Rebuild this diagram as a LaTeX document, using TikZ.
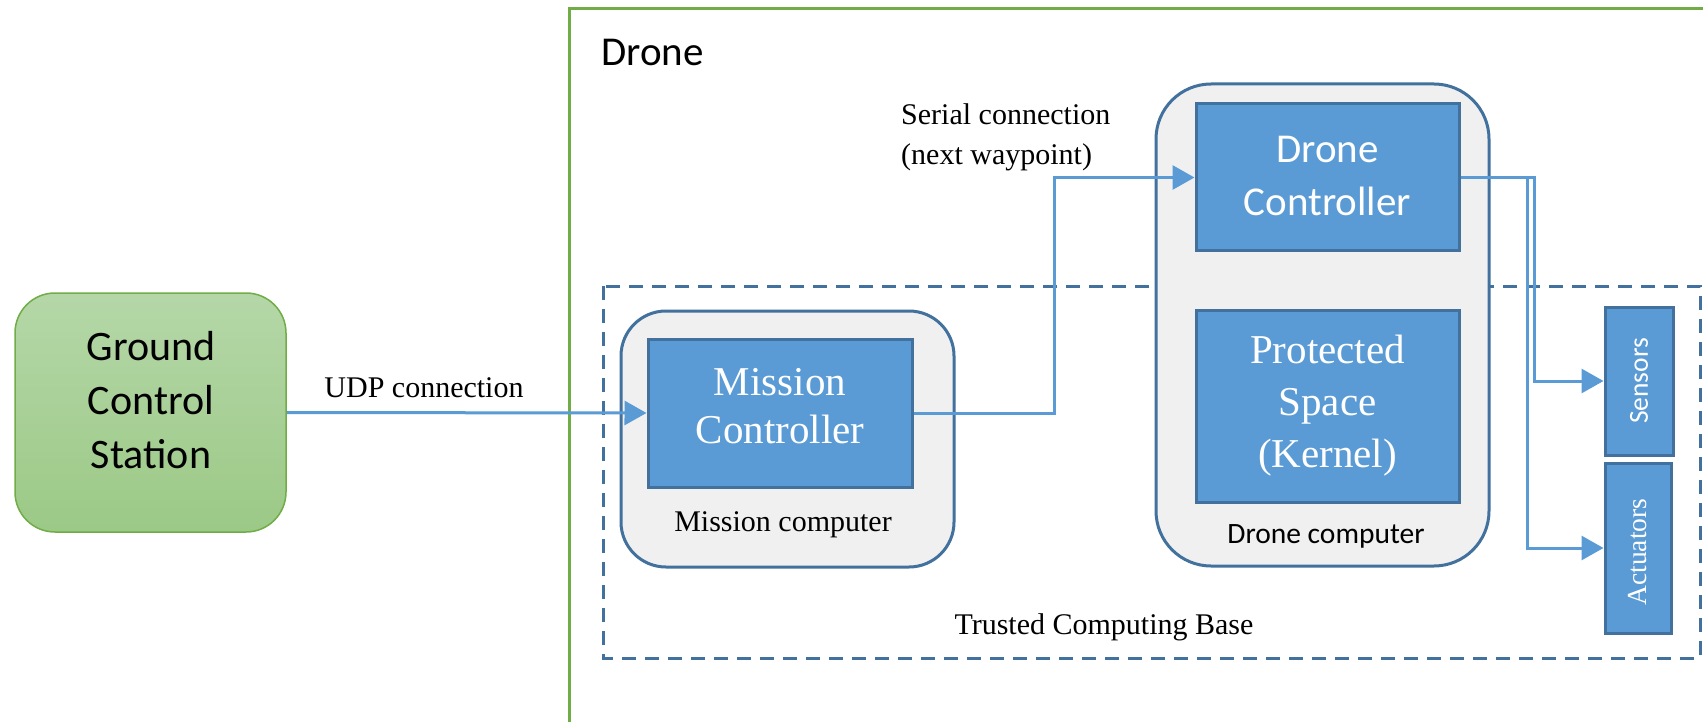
\documentclass[tikz,border=0pt]{standalone}
\usepackage{fontspec}
\setmainfont{Liberation Serif}
\newfontfamily\calibri{Carlito}
\usetikzlibrary{arrows.meta}
\definecolor{boxblue}{HTML}{5B9BD5}
\definecolor{edgeblue}{HTML}{41719C}
\definecolor{lightgrey}{HTML}{F0F0F0}
\definecolor{gedge}{HTML}{70AD47}
\definecolor{gtop}{HTML}{B5D7A8}
\definecolor{gbot}{HTML}{9BC986}
\begin{document}
\begin{tikzpicture}[x=1pt,y=-1pt,
  bluebox/.style={draw=edgeblue, fill=boxblue, line width=3pt, inner sep=0pt},
  computer/.style={draw=edgeblue, fill=lightgrey, line width=3pt, inner sep=0pt},
  conn/.style={draw=boxblue, line width=3pt, -{Triangle[length=22pt,width=24pt]}},
  lbl/.style={inner sep=0pt, align=center, font=\fontsize{30}{40}\selectfont},
  intext/.style={inner sep=0pt, align=center, text=white}
]
\useasboundingbox (0,0) rectangle (1703,722);
\clip (0,0) rectangle (1703,722);
\fill[white] (0,0) rectangle (1703,722);
% Drone enclosure
\draw[gedge, line width=3pt] (569,9) rectangle (1760,760);
\node[anchor=west, inner sep=0pt, font=\calibri\fontsize{41}{50}\selectfont] (dronelbl) at (601,52) {Drone};
% Trusted computing base
\draw[edgeblue, line width=3pt, dash pattern=on 14pt off 9pt] (603,286) rectangle (1700,658);
\node[lbl] (tcb) at (1104,627) {Trusted Computing Base};
% Ground control station
\node[draw=gedge, line width=1.5pt, top color=gtop, bottom color=gbot, rounded corners=40pt,
      minimum width=271pt, minimum height=239pt, inner sep=0pt] (gcs) at (150.5,412.5) {};
\node[inner sep=0pt, align=center, font=\calibri\fontsize{42}{54}\selectfont] (gcstext) at (151,400) {Ground\\Control\\Station};
% Mission computer
\node[computer, rounded corners=45pt, minimum width=333pt, minimum height=256pt] (mcomp) at (787.5,439) {};
\node[bluebox, minimum width=264pt, minimum height=148pt] (mc) at (780,413) {};
\node[intext, font=\fontsize{41}{48}\selectfont] (mctext) at (780,406) {Mission\\Controller};
\node[lbl] (mcomplbl) at (783,525) {Mission computer};
% Drone computer
\node[computer, rounded corners=55pt, minimum width=333pt, minimum height=482pt] (dcomp) at (1322.5,325) {};
\node[bluebox, minimum width=263pt, minimum height=147pt] (dc) at (1327.5,177.5) {};
\node[intext, font=\calibri\fontsize{41}{53}\selectfont] (dctext) at (1327.5,175.5) {Drone\\Controller};
\node[bluebox, minimum width=263pt, minimum height=192pt] (ps) at (1327.5,406) {};
\node[intext, font=\fontsize{41}{52}\selectfont] (pstext) at (1327.5,406) {Protected\\Space\\(Kernel)};
\node[inner sep=0pt, font=\calibri\fontsize{29.5}{34}\selectfont] (dcomplbl) at (1326,536) {Drone computer};
% Sensors and actuators
\node[bluebox, minimum width=68pt, minimum height=148pt] (sens) at (1639,381) {};
\node[intext, rotate=90, font=\calibri\fontsize{27.5}{32}\selectfont] (senstext) at (1639,381) {Sensors};
\node[bluebox, minimum width=66pt, minimum height=170pt] (act) at (1638,548) {};
\node[intext, rotate=90, font=\fontsize{27.5}{32}\selectfont] (acttext) at (1638,552) {Actuators};
% Connections
\draw[conn] (gcs.east) -- (mc.west);
\node[lbl] (udp) at (424,388) {UDP connection};
\draw[conn] (mc.east) -- ++(141,0) |- (dc.west);
\node[lbl, anchor=west, align=left] (serial) at (901,137) {Serial connection\\(next waypoint)};
\draw[conn] (dc.east) -- ++(74,0) |- (sens.west);
\draw[conn] (dc.east) -- ++(67,0) |- (act.west);
\end{tikzpicture}
\end{document}
